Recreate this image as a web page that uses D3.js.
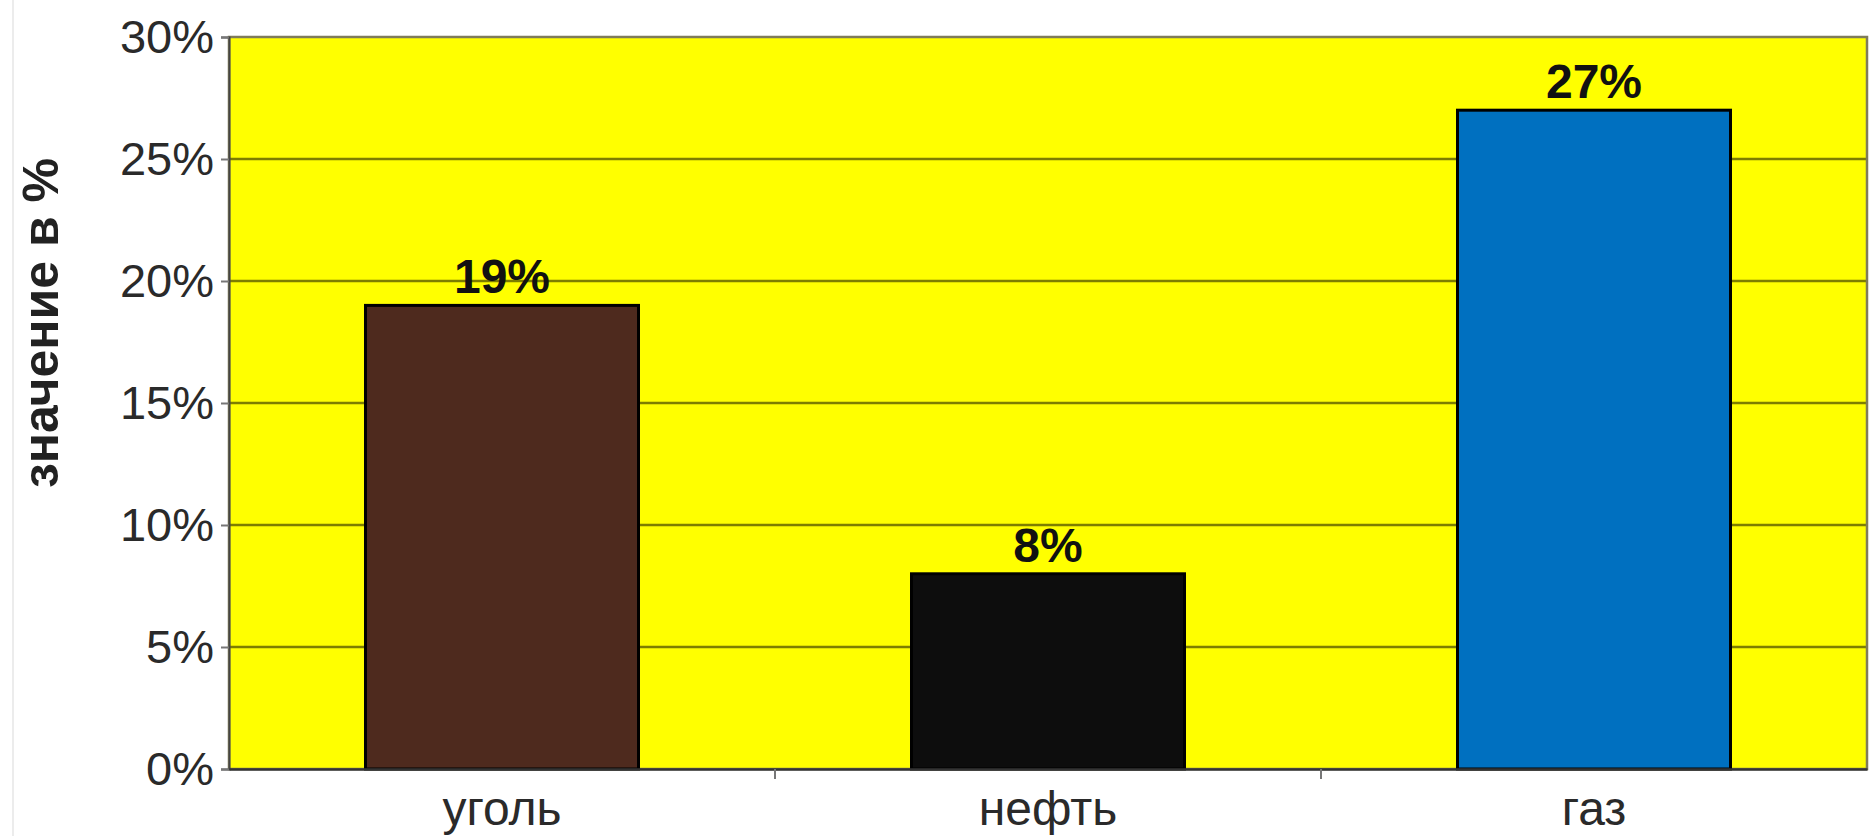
<!DOCTYPE html>
<html>
<head>
<meta charset="utf-8">
<script src="https://cdn.jsdelivr.net/npm/d3@7"></script>
<style>
  body { margin: 0; background: #ffffff; }
  svg { display: block; font-family: "Liberation Sans", Arial, sans-serif; }
</style>
</head>
<body>
<div id="chart"></div>
<script>
// данные диаграммы
const categories = ["уголь", "нефть", "газ"];
const values = [19, 8, 27];
const yTicks = [0, 5, 10, 15, 20, 25, 30];
const yTitle = "значение в %";

function createBarChart(containerId) {
    var width = 1870;
    var height = 836;
    var margin = { top: 37, right: 3, bottom: 67, left: 229 };

    var svg = d3.select("#" + containerId)
        .append("svg")
        .attr("width", width)
        .attr("height", height);

    // тонкая рамка слайда слева
    svg.append("line")
        .attr("x1", 13).attr("x2", 13)
        .attr("y1", 0).attr("y2", height)
        .attr("stroke", "#ececec")
        .attr("stroke-width", 2);

    var x = d3.scaleBand()
        .domain(categories)
        .range([margin.left, width - margin.right])
        .paddingInner(0.5)
        .paddingOuter(0.25);

    var y = d3.scaleLinear()
        .domain([0, 30])
        .range([height - margin.bottom, margin.top]);

    var color = d3.scaleOrdinal()
        .domain(categories)
        .range(["#4e2a1e", "#0d0d0d", "#0070c0"]);

    // жёлтый фон области построения
    svg.append("rect")
        .attr("x", margin.left)
        .attr("y", y(30))
        .attr("width", width - margin.right - margin.left)
        .attr("height", y(0) - y(30))
        .attr("fill", "#ffff00");

    // линии сетки
    svg.selectAll("line.grid")
        .data(yTicks.filter(d => d > 0 && d < 30))
        .enter()
        .append("line")
        .attr("class", "grid")
        .attr("x1", margin.left)
        .attr("x2", width - margin.right)
        .attr("y1", d => y(d))
        .attr("y2", d => y(d))
        .attr("stroke", "#7d7d00")
        .attr("stroke-width", 2.5);

    // рамка
    svg.append("rect")
        .attr("x", margin.left)
        .attr("y", y(30))
        .attr("width", width - margin.right - margin.left)
        .attr("height", y(0) - y(30))
        .attr("fill", "none")
        .attr("stroke", "#7f7b5a")
        .attr("stroke-width", 2.5);

    // столбцы
    svg.selectAll("rect.bar")
        .data(values)
        .enter()
        .append("rect")
        .attr("class", "bar")
        .attr("x", (d, i) => x(categories[i]))
        .attr("y", d => y(d))
        .attr("width", x.bandwidth())
        .attr("height", d => y(0) - y(d))
        .attr("fill", (d, i) => color(categories[i]))
        .attr("stroke", "#000000")
        .attr("stroke-width", 3);

    // подписи значений
    svg.selectAll("text.value")
        .data(values)
        .enter()
        .append("text")
        .attr("class", "value")
        .attr("x", (d, i) => x(categories[i]) + x.bandwidth() / 2)
        .attr("y", d => y(d) - 12)
        .attr("text-anchor", "middle")
        .style("font-size", "48px")
        .style("font-weight", "bold")
        .style("fill", "#111111")
        .text(d => d + "%");

    // ось Y
    var yAxis = svg.append("g")
        .attr("transform", "translate(" + margin.left + ",0)")
        .call(d3.axisLeft(y).tickValues(yTicks).tickFormat(d => d + "%").tickSize(8).tickPadding(7));
    yAxis.select(".domain").attr("stroke", "#444444").attr("stroke-width", 2);
    yAxis.selectAll("line").attr("stroke", "#777777").attr("stroke-width", 2);
    yAxis.selectAll("text")
        .style("font-size", "47px")
        .style("fill", "#2a2a2a");

    // ось X
    var xAxis = svg.append("g")
        .attr("transform", "translate(0," + y(0) + ")")
        .call(d3.axisBottom(x).tickSize(0).tickPadding(22));
    xAxis.select(".domain").attr("stroke", "#333333").attr("stroke-width", 2.5);
    xAxis.selectAll("text")
        .style("font-size", "48px")
        .style("fill", "#2a2a2a");

    // засечки между категориями
    var gap = x.step() - x.bandwidth();
    xAxis.selectAll("line.sep")
        .data(categories.slice(1))
        .enter()
        .append("line")
        .attr("class", "sep")
        .attr("x1", d => x(d) - gap / 2)
        .attr("x2", d => x(d) - gap / 2)
        .attr("y1", 0)
        .attr("y2", 10)
        .attr("stroke", "#777777")
        .attr("stroke-width", 2);

    // заголовок оси Y
    svg.append("text")
        .attr("transform", "translate(58,323) rotate(-90)")
        .attr("text-anchor", "middle")
        .style("font-size", "50px")
        .style("font-weight", "bold")
        .style("fill", "#222222")
        .text(yTitle);
}

createBarChart("chart");
</script>
</body>
</html>
